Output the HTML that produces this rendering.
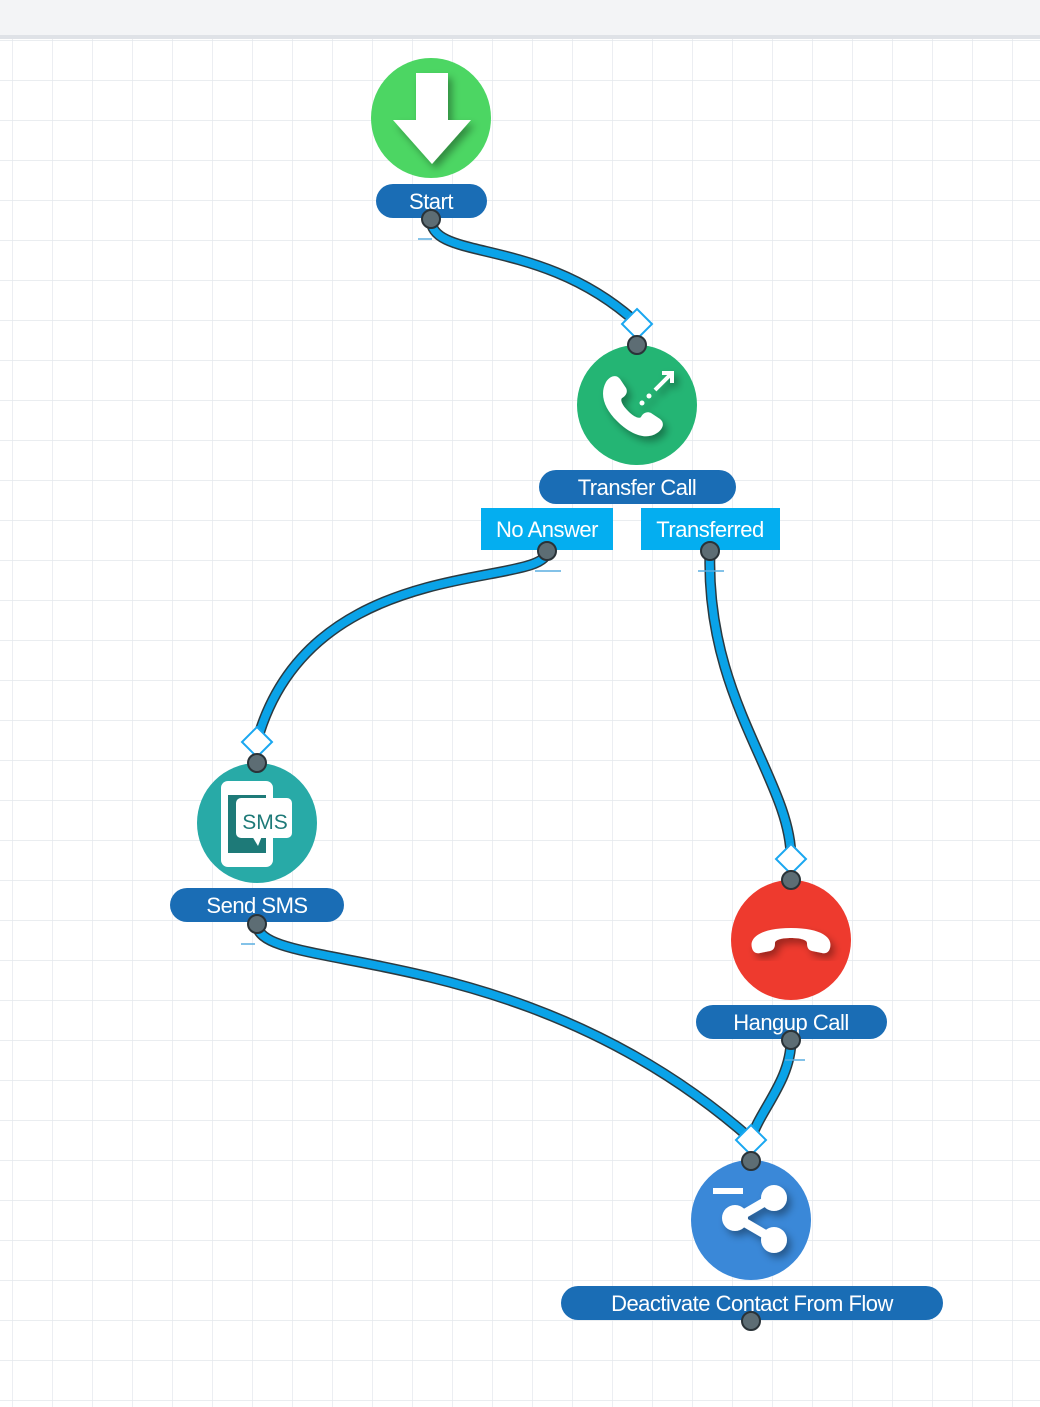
<!DOCTYPE html>
<html><head><meta charset="utf-8"><style>
html,body{margin:0;padding:0;width:1040px;height:1407px;overflow:hidden;background:#fff}
</style></head><body>
<svg width="1040" height="1407" viewBox="0 0 1040 1407" xmlns="http://www.w3.org/2000/svg" font-family="Liberation Sans, sans-serif">
<defs>
<pattern id="g" width="40" height="40" patternUnits="userSpaceOnUse" x="12" y="0">
<path d="M0 0H40M0 0V40" stroke="#e3e7ec" stroke-width="1.4" fill="none"/>
</pattern>
<filter id="sh" x="-30%" y="-30%" width="160%" height="160%"><feDropShadow dx="4" dy="5" stdDeviation="4" flood-color="#000" flood-opacity="0.35"/></filter>
</defs>
<rect width="1040" height="1407" fill="url(#g)"/>
<rect width="1040" height="37" fill="#f3f4f6"/>
<rect y="35" width="1040" height="4" fill="#dfe2e7"/>

<g fill="none" stroke-linecap="round">
<g stroke="#2b3a40" stroke-width="11">
<path d="M431,219 C431,262 540,235 637,323"/>
<path d="M547,551 C547,590 310,550 257,741"/>
<path d="M710,551 C705,700 791,780 791,858"/>
<path d="M257,924 C257,975 520,935 751,1139"/>
<path d="M791,1040 C791,1080 760,1110 751,1139"/>
</g>
<g stroke="#0aa3e8" stroke-width="8">
<path d="M431,219 C431,262 540,235 637,323"/>
<path d="M547,551 C547,590 310,550 257,741"/>
<path d="M710,551 C705,700 791,780 791,858"/>
<path d="M257,924 C257,975 520,935 751,1139"/>
<path d="M791,1040 C791,1080 760,1110 751,1139"/>
</g>
</g>
<g stroke="#5aaee0" stroke-width="1.5">
<path d="M418,239H432M535,571H561M698,571H724M241,944H255M785,1060H805"/>
</g>

<g fill="#fff" stroke="#1aa7f0" stroke-width="2">
<path d="M637,309 L652,324 L637,339 L622,324Z"/>
<path d="M257,727 L272,742 L257,757 L242,742Z"/>
<path d="M791,844 L806,859 L791,874 L776,859Z"/>
<path d="M751,1125 L766,1140 L751,1155 L736,1140Z"/>
</g>

<circle cx="431" cy="118" r="60" fill="#4cd663"/>
<g filter="url(#sh)"><path d="M416,73H448V120H471L432,164L393,120H416Z" fill="#fff"/></g>
<rect x="376" y="184" width="111" height="34" rx="17" fill="#1a6db5"/>
<text x="431" y="209" text-anchor="middle" fill="#fff" font-size="22" letter-spacing="-0.5">Start</text>

<circle cx="637" cy="405" r="60" fill="#24b574"/>
<g filter="url(#sh)">
<path d="M606,382 c4,-6 10,-8 14,-3 l6,9 c2,4 0,8 -4,10 c-2,2 0,7 6,13 c6,6 11,8 13,6 c2,-4 6,-6 10,-4 l9,6 c5,4 3,10 -3,14 c-12,8 -28,0 -40,-12 c-12,-12 -18,-26 -11,-39z" fill="#fff"/>
<circle cx="642" cy="403" r="2.5" fill="#fff"/><circle cx="649" cy="396" r="2.5" fill="#fff"/>
<path d="M655,390 L670,375 M662,373 H672 V383" stroke="#fff" stroke-width="4" fill="none"/>
</g>
<rect x="539" y="470" width="197" height="34" rx="17" fill="#1a6db5"/>
<text x="637" y="495" text-anchor="middle" fill="#fff" font-size="22" letter-spacing="-0.5">Transfer Call</text>
<rect x="481" y="508" width="132" height="42" fill="#04aef0"/>
<text x="547" y="537" text-anchor="middle" fill="#fff" font-size="22" letter-spacing="-0.5">No Answer</text>
<rect x="641" y="508" width="139" height="42" fill="#04aef0"/>
<text x="710" y="537" text-anchor="middle" fill="#fff" font-size="22" letter-spacing="-0.5">Transferred</text>

<circle cx="257" cy="823" r="60" fill="#28aaa7"/>
<rect x="221" y="781" width="52" height="86" rx="7" fill="#fff"/>
<rect x="228" y="795" width="38" height="58" fill="#1e7a78"/>
<rect x="236" y="798" width="56" height="40" rx="5" fill="#fff"/>
<path d="M252,836 L258,846 L262,836Z" fill="#fff"/>
<rect x="239" y="801" width="50" height="34" rx="4" fill="#fff"/>
<text x="265" y="829" text-anchor="middle" fill="#1e7a78" font-size="21">SMS</text>
<rect x="170" y="888" width="174" height="34" rx="17" fill="#1a6db5"/>
<text x="257" y="913" text-anchor="middle" fill="#fff" font-size="22" letter-spacing="-0.5">Send SMS</text>

<circle cx="791" cy="940" r="60" fill="#ee3a2e"/>
<g filter="url(#sh)">
<path d="M752,948 c-3,-10 8,-20 39,-20 c31,0 42,10 39,20 c-1,4 -4,6 -8,5 l-10,-2 c-4,-1 -5,-4 -5,-8 c0,-3 -6,-5 -16,-5 c-10,0 -16,2 -16,5 c0,4 -1,7 -5,8 l-10,2 c-4,1 -7,-1 -8,-5z" fill="#fff"/>
</g>
<rect x="696" y="1005" width="191" height="34" rx="17" fill="#1a6db5"/>
<text x="791" y="1030" text-anchor="middle" fill="#fff" font-size="22" letter-spacing="-0.5">Hangup Call</text>

<circle cx="751" cy="1220" r="60" fill="#3a88d8"/>
<rect x="713" y="1188" width="30" height="6" fill="#fff"/>
<g filter="url(#sh)">
<path d="M737,1218 L773,1197 M737,1218 L773,1239" stroke="#fff" stroke-width="9"/>
<circle cx="735" cy="1218" r="13" fill="#fff"/>
<circle cx="774" cy="1198" r="13" fill="#fff"/>
<circle cx="774" cy="1240" r="13" fill="#fff"/>
</g>
<rect x="561" y="1286" width="382" height="34" rx="17" fill="#1a6db5"/>
<text x="752" y="1311" text-anchor="middle" fill="#fff" font-size="22" letter-spacing="-0.5">Deactivate Contact From Flow</text>

<g fill="#5d6d74" stroke="#2a3338" stroke-width="2">
<circle cx="431" cy="219" r="9"/>
<circle cx="637" cy="345" r="9"/>
<circle cx="547" cy="551" r="9"/>
<circle cx="710" cy="551" r="9"/>
<circle cx="257" cy="763" r="9"/>
<circle cx="257" cy="924" r="9"/>
<circle cx="791" cy="880" r="9"/>
<circle cx="791" cy="1040" r="9"/>
<circle cx="751" cy="1161" r="9"/>
<circle cx="751" cy="1321" r="9"/>
</g>
</svg>
</body></html>
